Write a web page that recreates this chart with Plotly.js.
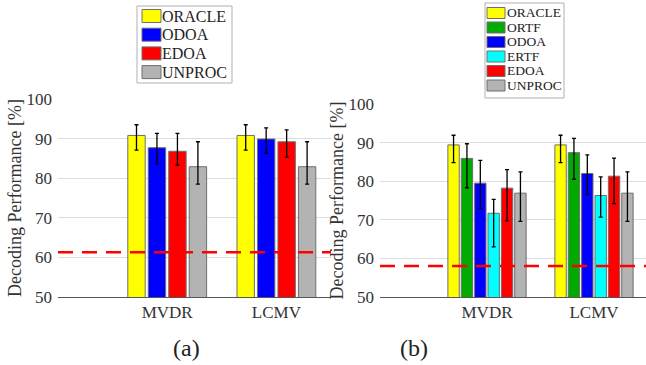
<!DOCTYPE html>
<html>
<head>
<meta charset="utf-8">
<script src="https://cdn.plot.ly/plotly-3.0.1.min.js"></script>
<style>html,body{margin:0;padding:0;background:#fff;}#chart{width:646px;height:365px;}</style>
</head>
<body>
<div id="chart"></div>
<script>
// ---- data ----
const categories = ['MVDR', 'LCMV'];

// panel (a)
const namesA = ['ORACLE', 'ODOA', 'EDOA', 'UNPROC'];
const meansA = [[90.8, 90.8], [87.7, 89.9], [86.8, 89.2], [82.9, 82.9]];
const errPlusA = [[2.7, 2.7], [3.6, 2.8], [4.5, 3.0], [6.3, 6.3]];
const errMinusA = [[3.7, 3.7], [4.1, 3.6], [3.5, 3.9], [4.4, 4.4]];
const chanceA = [61.3];

// panel (b)
const namesB = ['ORACLE', 'ORTF', 'ODOA', 'ERTF', 'EDOA', 'UNPROC'];
const meansB = [[89.4, 89.4], [85.9, 87.4], [79.5, 82.0], [71.7, 76.3], [78.2, 81.3], [76.9, 76.9]];
const errPlusB = [[2.5, 2.5], [3.8, 3.7], [5.9, 4.8], [3.6, 4.8], [4.8, 4.7], [5.5, 5.5]];
const errMinusB = [[4.6, 4.6], [7.6, 6.9], [6.6, 5.5], [8.7, 5.6], [8.5, 7.1], [7.3, 7.3]];
const chanceB = [58.0];

const yTickVals = [50, 60, 70, 80, 90, 100];
const yTitle = 'Decoding Performance [%]';
const panelLabels = ['(a)', '(b)'];

// ---- styles ----
const colorMap = {
  ORACLE: '#ffff00', ORTF: '#00aa00', ODOA: '#0000ff',
  ERTF: '#00ffff', EDOA: '#ff0000', UNPROC: '#b3b3b3'
};
const FONT = '"Liberation Serif", "Times New Roman", serif';
const TXT = '#333333';
const W = 646, H = 365;
const px = v => v / W;          // paper x from pixel
const py = v => 1 - v / H;      // paper y from pixel

const traces = [];
namesA.forEach((n, i) => {
  traces.push({
    type: 'bar', name: n, x: categories, y: meansA[i],
    xaxis: 'x', yaxis: 'y', showlegend: false,
    marker: {color: colorMap[n], line: {color: '#6e6e6e', width: 1}},
    error_y: {type: 'data', symmetric: false, array: errPlusA[i], arrayminus: errMinusA[i],
              color: '#000', thickness: 1.3, width: 2}
  });
});
namesB.forEach((n, i) => {
  traces.push({
    type: 'bar', name: n, x: categories, y: meansB[i],
    xaxis: 'x2', yaxis: 'y2', showlegend: false,
    marker: {color: colorMap[n], line: {color: '#6e6e6e', width: 1}},
    error_y: {type: 'data', symmetric: false, array: errPlusB[i], arrayminus: errMinusB[i],
              color: '#000', thickness: 1.3, width: 2}
  });
});

const xCommon = {
  type: 'category', range: [-1, 1.5], showgrid: false, zeroline: false,
  showline: true, linecolor: '#555', linewidth: 1, ticks: '',
  tickfont: {family: FONT, size: 17, color: TXT}, ticklabelstandoff: 0
};
const yCommon = {
  range: [50, 100], tickvals: yTickVals, showgrid: true, gridcolor: '#dcdcdc', gridwidth: 1,
  zeroline: false, showline: false, ticks: '',
  tickfont: {family: FONT, size: 17, color: TXT}, ticklabelstandoff: 5,
  title: {text: yTitle, font: {family: FONT, size: 18, color: TXT}, standoff: 0}
};

// hand-built legend boxes (swatch + label per series)
const shapes = [
  {type: 'line', xref: 'x domain', yref: 'y', x0: 0, x1: 1, y0: chanceA[0], y1: chanceA[0],
   line: {color: '#ff0000', width: 2.5, dash: '15px,9px'}, layer: 'above'},
  {type: 'line', xref: 'x2 domain', yref: 'y2', x0: 0, x1: 1, y0: chanceB[0], y1: chanceB[0],
   line: {color: '#ff0000', width: 2.5, dash: '15px,9px'}, layer: 'above'}
];
const annotations = [
  {text: panelLabels[0], xref: 'paper', yref: 'paper', x: px(186), y: py(348),
   xanchor: 'center', yanchor: 'middle', showarrow: false, font: {family: FONT, size: 24, color: '#222'}},
  {text: panelLabels[1], xref: 'paper', yref: 'paper', x: px(414), y: py(348),
   xanchor: 'center', yanchor: 'middle', showarrow: false, font: {family: FONT, size: 24, color: '#222'}}
];
function addLegend(names, box, first, step, swX0, swX1, swH, textX, fontSize) {
  shapes.push({type: 'rect', xref: 'paper', yref: 'paper',
    x0: px(box[0]), x1: px(box[1]), y0: py(box[3]), y1: py(box[2]),
    line: {color: '#b0b0b0', width: 1}, fillcolor: '#ffffff', layer: 'above'});
  names.forEach((n, i) => {
    const cy = first + i * step;
    shapes.push({type: 'rect', xref: 'paper', yref: 'paper',
      x0: px(swX0), x1: px(swX1), y0: py(cy + swH / 2), y1: py(cy - swH / 2),
      line: {color: '#6e6e6e', width: 1}, fillcolor: colorMap[n], layer: 'above'});
    annotations.push({text: n, xref: 'paper', yref: 'paper', x: px(textX), y: py(cy),
      xanchor: 'left', yanchor: 'middle', showarrow: false,
      font: {family: FONT, size: fontSize, color: '#222'}});
  });
}
addLegend(namesA, [137, 232, 6, 83], 16, 18.7, 142, 161, 13, 160, 16);
addLegend(namesB, [485, 564, 3, 98], 13, 14.5, 487, 505, 11, 505, 13.5);

const layout = {
  width: W, height: H,
  margin: {l: 0, r: 0, t: 0, b: 0},
  paper_bgcolor: '#fff', plot_bgcolor: '#fff',
  barmode: 'group', bargap: 0.25, bargroupgap: 0.15,
  xaxis: Object.assign({}, xCommon, {domain: [px(58), px(331)], anchor: 'y'}),
  yaxis: Object.assign({}, yCommon, {domain: [py(297), py(99)], anchor: 'x'}),
  xaxis2: Object.assign({}, xCommon, {domain: [px(380), 1], anchor: 'y2', range: [-1, 1.486]}),
  yaxis2: Object.assign({}, yCommon, {domain: [py(297), py(104)], anchor: 'x2'}),
  shapes: shapes,
  annotations: annotations,
  showlegend: false
};

Plotly.newPlot('chart', traces, layout, {staticPlot: true, displayModeBar: false});
</script>
</body>
</html>
